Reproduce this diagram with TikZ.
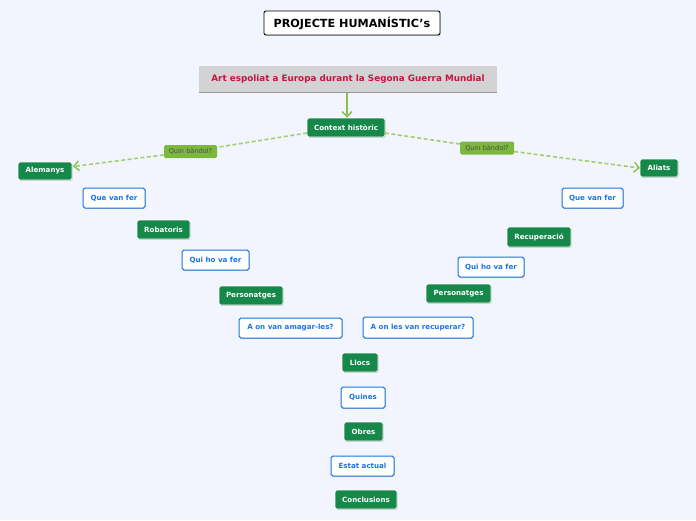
\documentclass[tikz,border=0pt]{standalone}
\usepackage{fontspec}
\setmainfont{DejaVu Sans}
\usetikzlibrary{arrows.meta,shadows}
\definecolor{bg}{HTML}{F2F5FE}
\definecolor{dkgreen}{HTML}{15884A}
\definecolor{ltgreen}{HTML}{7DB83E}
\definecolor{dashgreen}{HTML}{A3CF72}
\definecolor{arrgreen}{HTML}{8CC152}
\definecolor{bluetxt}{HTML}{1A73E8}
\definecolor{redtxt}{HTML}{C8143C}
\definecolor{barfill}{HTML}{D3D3D5}
\tikzset{
  base/.style={rounded corners=1.8pt, inner sep=0pt, align=center,
    font=\fontsize{7.1}{8}\selectfont\bfseries,
    drop shadow={shadow xshift=0.7pt, shadow yshift=-0.9pt, fill=black!35, opacity=0.6}},
  gbox/.style={base, fill=dkgreen, draw=white, line width=0.6pt, text=white},
  wbox/.style={base, fill=white, draw=bluetxt, line width=1pt, text=bluetxt},
  lbl/.style={rounded corners=1.5pt, inner sep=0pt, fill=ltgreen, text=black!70,
    font=\fontsize{6.6}{7}\selectfont, minimum height=13pt},
  dconn/.style={draw=dashgreen, line width=1.6pt, dash pattern=on 4pt off 2.5pt},
  sz/.style 2 args={minimum width=#1pt, minimum height=#2pt},
  barb/.style={-{Straight Barb[length=5pt,width=10pt,line width=1.4pt,color=arrgreen]}},
}
\begin{document}
\begin{tikzpicture}[x=1pt,y=-1pt]
\fill[bg] (0,0) rectangle (696,520);
\useasboundingbox (0,0) rectangle (696,520);
% title
\node[base, fill=white, draw=black, line width=0.9pt, sz={176}{24}, rounded corners=2pt,
  font=\fontsize{11.2}{12}\selectfont\bfseries, text=black] (title) at (352,23) {PROJECTE HUMANÍSTIC's};
% main bar
\node[inner sep=0pt, fill=barfill, sz={298}{26}, text=redtxt,
  font=\fontsize{8.8}{9}\selectfont\bfseries] (main) at (348,79) {Art espoliat a Europa durant la Segona Guerra Mundial};
\draw[black!40, line width=1.2pt] (main.south west) -- (main.south east);
% context
\node[gbox, sz={78}{19}] (ctx) at (346,127.5) {Context històric};
\coordinate (m1) at (347,93);
\draw[arrgreen, line width=1.8pt, -{Straight Barb[length=5pt,width=10pt,line width=1.6pt]}] (m1) -- (m1 |- ctx.north);
% sides
\node[gbox, sz={54}{18}] (alem) at (45,171) {Alemanys};
\node[gbox, sz={38}{18}] (ali) at (659,168) {Aliats};
\node[lbl, minimum width=53pt] (q1) at (190.5,151.5) {Quin bàndol?};
\node[lbl, minimum width=54pt] (q2) at (487,148) {Quin bàndol?};
\coordinate (c1) at (307,133);
\coordinate (c2) at (385,133);
\coordinate (a1) at (73,166.5);
\coordinate (a2) at (640,168);
\draw[dconn] (c1) -- (q1);
\draw[dconn, barb] (q1) -- (a1);
\draw[dconn] (c2) -- (q2);
\draw[dconn, barb] (q2) -- (a2);
% left column
\node[wbox, sz={62}{20}] (lq1) at (114,198) {Que van fer};
\node[gbox, sz={53}{19}] (rob) at (163.5,229.5) {Robatoris};
\node[wbox, sz={67}{20}] (lq2) at (215.5,260) {Qui ho va fer};
\node[gbox, sz={64}{19}] (lp) at (251,295.5) {Personatges};
\node[wbox, sz={103}{20}] (lq3) at (290.5,328) {A on van amagar-les?};
% right column
\node[wbox, sz={61}{20}] (rq1) at (592.5,198) {Que van fer};
\node[gbox, sz={64}{20}] (rec) at (539,237) {Recuperació};
\node[wbox, sz={66}{20}] (rq2) at (491,267) {Qui ho va fer};
\node[gbox, sz={65}{19}] (rp) at (458.5,293.5) {Personatges};
\node[wbox, sz={110}{21}] (rq3) at (418,327.5) {A on les van recuperar?};
% center column
\node[gbox, sz={36}{19}] (llocs) at (360,362.5) {Llocs};
\node[wbox, sz={44}{21}] (quines) at (363,397.5) {Quines};
\node[gbox, sz={39}{19}] (obres) at (363.5,431.5) {Obres};
\node[wbox, sz={63}{20}] (estat) at (362.5,466) {Estat actual};
\node[gbox, sz={62}{19}] (concl) at (366,499.5) {Conclusions};
\end{tikzpicture}
\end{document}
